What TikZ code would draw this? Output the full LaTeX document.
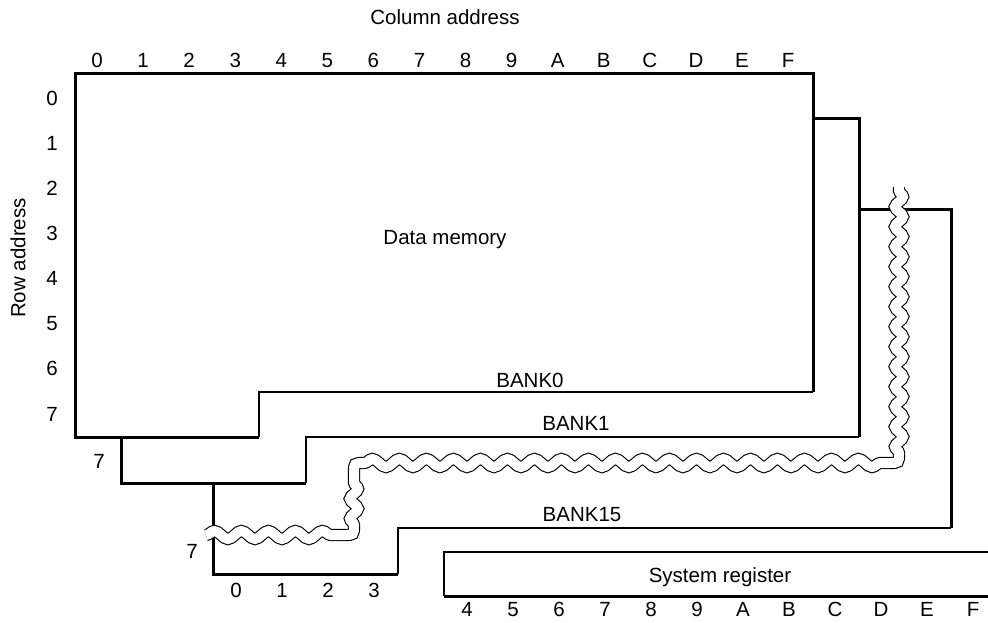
\documentclass[tikz,border=0pt]{standalone}
\usepackage{fontspec}
\setmainfont{Liberation Sans}
\usetikzlibrary{decorations.pathmorphing}
\tikzset{
    every node/.style={inner sep=0mm, text height=14.6pt, text depth=0pt,
        font=\fontsize{20.5}{24}\selectfont}
}
\tikzset{heavy/.style={line width=3pt}, light/.style={line width=1.5pt}}
\tikzset{brk/.style={line width=1.1pt, double=white, double distance=10pt},
    hwave/.style={decoration={snake, amplitude=4pt, segment length=27pt}},
    vwave/.style={decoration={snake, amplitude=4pt, segment length=20pt}}}

\begin{document}
\begin{tikzpicture}[x=1pt, y=-1pt]
        \useasboundingbox (0,0) rectangle (988,622);
        \node (colt) at (445, 17) {Column address};
        \node (rowt) [rotate=90] at (18, 258) {Row address};
        \node (dm) at (445, 237) {Data memory};
        \node (b0) at (530, 380) {BANK0};
        \node (b1) at (576, 423) {BANK1};
        \node (b15) at (582, 514) {BANK15};
        \node (sr) at (720, 575) {System register};
        \node (r7a) at (99, 461) {7};
        \node (r7b) at (192, 551) {7};
        \foreach \t [count=\n from 0] in {0,1,2,3,4,5,6,7,8,9,A,B,C,D,E,F}
                \node (col\t) at (97+46.07*\n, 60) {\t};
        \foreach \n in {0,...,7}
                \node (row\n) at (52, 98+45.1*\n) {\n};
        \foreach \n in {0,...,3}
                \node (bc\n) at (236+46*\n, 590) {\n};
        \foreach \t [count=\n from 0] in {4,5,6,7,8,9,A,B,C,D,E,F}
                \node (sc\t) at (467+46*\n, 609) {\t};
        % BANK0
        \coordinate (a0) at (75, 73);   \coordinate (a1) at (813, 73);
        \coordinate (a2) at (813, 392); \coordinate (a3) at (259, 392);
        \coordinate (a4) at (259, 437); \coordinate (a5) at (75, 437);
        % BANK1
        \coordinate (d0) at (813, 118); \coordinate (d1) at (859, 118);
        \coordinate (d2) at (859, 437); \coordinate (d3) at (306, 437);
        \coordinate (d4) at (306, 483); \coordinate (d5) at (121, 483);
        \coordinate (d6) at (121, 437);
        % BANK15
        \coordinate (e0) at (859, 209); \coordinate (e1) at (951, 209);
        \coordinate (e2) at (951, 528); \coordinate (e3) at (398, 528);
        \coordinate (e4) at (398, 574); \coordinate (e5) at (213, 574);
        \coordinate (e6) at (213, 483);
        % system register
        \coordinate (s0) at (988, 552); \coordinate (s1) at (444, 552);
        \coordinate (s2) at (444, 596); \coordinate (s3) at (988, 596);
        % break, with its rounded turns
        \coordinate (w0) at (206, 535);
        \coordinate (w1a) at (344, 535); \coordinate (w1) at (354, 535); \coordinate (w1b) at (354, 525);
        \coordinate (w2a) at (354, 473); \coordinate (w2) at (354, 463); \coordinate (w2b) at (364, 463);
        \coordinate (w3a) at (889, 463); \coordinate (w3) at (899, 463); \coordinate (w3b) at (899, 453);
        \coordinate (w4) at (899, 187);
        \draw[heavy] (a4) -- (a5) -- (a0) -- (a1) -- (a2);
        \draw[light] (a2) -- (a3) -- (a4);
        \draw[heavy] (d0) -- (d1) -- (d2);
        \draw[light] (d2) -- (d3) -- (d4);
        \draw[heavy] (d4) -- (d5) -- (d6);
        \draw[heavy] (e0) -- (e1) -- (e2);
        \draw[light] (e2) -- (e3) -- (e4);
        \draw[heavy] (e4) -- (e5) -- (e6);
        \draw[light] (s0) -- (s1) -- (s2);
        \draw[heavy] (s2) -- (s3);
        \draw[brk] decorate[hwave] {(w0) -- (w1a)} .. controls (w1) .. (w1b)
                decorate[vwave] {-- (w2a)} .. controls (w2) .. (w2b)
                decorate[hwave] {-- (w3a)} .. controls (w3) .. (w3b)
                decorate[vwave] {-- (w4)};
\end{tikzpicture}
\end{document}
